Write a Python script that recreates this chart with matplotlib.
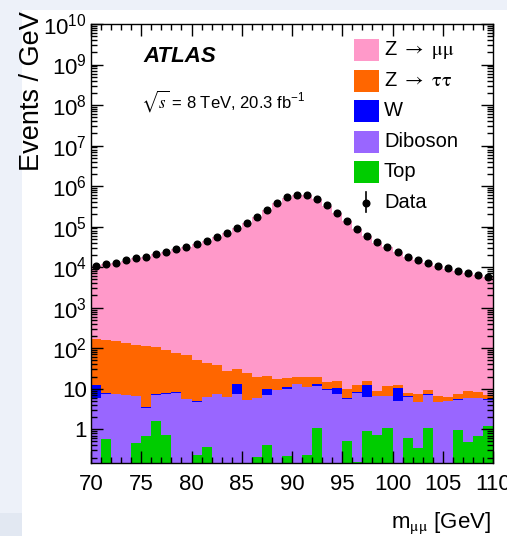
import numpy as np
import matplotlib
matplotlib.use("Agg")
import matplotlib.pyplot as plt
from matplotlib.patches import Rectangle
from matplotlib.lines import Line2D
from matplotlib.ticker import LogLocator, MultipleLocator, FuncFormatter, NullFormatter

plt.rcParams['font.family'] = ['Liberation Sans', 'DejaVu Sans']
plt.rcParams['mathtext.fontset'] = 'stix'

# 1 GeV bins of the dimuon invariant mass
edges = np.arange(70, 111, 1)

# Observed events / GeV
data = [10800, 11900, 13000, 14600, 16400, 18000, 20600, 23900, 27300, 31800,
        37700, 44700, 55100, 70500, 91800, 124500, 175000, 255000, 380000, 525000,
        600000, 589000, 478000, 333000, 215000, 137000, 86700, 58200, 40600, 30600,
        23400, 18300, 15200, 12800, 10800, 9270, 8110, 7240, 6340, 5660]

# Simulated processes (events / GeV)
zmumu = [10650, 11750, 12850, 14450, 16300, 17900, 20500, 23800, 27200, 31700,
         37600, 44650, 55000, 70450, 91700, 124300, 174800, 254000, 378000, 523000,
         598000, 588000, 477000, 332000, 214500, 136800, 86600, 58100, 40550, 30550,
         23350, 18280, 15180, 12780, 10780, 9250, 8100, 7230, 6330, 5650]
ztautau = [154, 149, 141, 128, 116, 108, 97, 81, 66, 62,
           45, 38, 31, 21, 17, 19, 14, 11, 7.7, 6.9,
           7.0, 8.4, 6.1, 5.4, 4.8, 4.2, 4.1, 3.2, 2.1, 4.8,
           1.8, 1.1, 2.6, 2.2, 1.9, 1.3, 1.8, 2.7, 2.4, 1.7]
wjets = [6.2, 0.1, 0.1, 0.1, 0.1, 0.1, 0.1, 0.1, 0.1, 0.1,
         0.1, 0.1, 0.1, 0.1, 5.8, 0.1, 0.1, 3.1, 0.1, 1.2,
         0.1, 0.1, 1.4, 0.1, 2.9, 0.1, 0.1, 5.9, 0.1, 0.1,
         5.6, 0.4, 0.1, 0.1, 0.1, 0.1, 0.1, 0.1, 0.1, 0.1]
diboson = [5.95, 7.03, 7.25, 6.85, 6.04, 2.7, 5.6, 6.89, 7.95, 5.55,
           4.57, 5.84, 7.25, 6.25, 7.55, 5.15, 5.69, 6.5, 9.15, 9.68,
           12.85, 10.87, 10.43, 9.45, 7.55, 5.19, 7.84, 5.41, 5.79, 5.52,
           4.85, 5.68, 4.35, 6.1, 4.55, 4.85, 4.42, 5.41, 5.2, 4.21]
top = [0.05, 0.57, 0.05, 0.05, 0.46, 0.70, 1.6, 0.71, 0.05, 0.05,
       0.23, 0.36, 0.05, 0.05, 0.05, 0.05, 0.21, 0.40, 0.05, 0.22,
       0.05, 0.23, 1.07, 0.05, 0.05, 0.51, 0.16, 0.89, 0.71, 1.08,
       0.05, 0.62, 0.35, 1.1, 0.05, 0.05, 0.98, 0.49, 0.70, 1.19]

labels = [r"Z $\rightarrow$ $\mathrm{\mu\mu}$", r"Z $\rightarrow$ $\mathrm{\tau\tau}$",
          "W", "Diboson", "Top"]
colors = ["#ff99c9", "#ff6600", "#0000ff", "#9966ff", "#00cc00"]

W, H = 507, 536
fig = plt.figure(figsize=(W / 100, H / 100), dpi=100)
fig.patch.set_facecolor('#edf1f9')
fig.add_artist(Rectangle((22 / W, 0), 1 - 22 / W, 1 - 10 / H, transform=fig.transFigure,
                         facecolor='white', edgecolor='none', zorder=-5))
fig.add_artist(Rectangle((0, 0), 22 / W, 23 / H, transform=fig.transFigure,
                         facecolor='#e2e8f2', edgecolor='none', zorder=-5))


def fx(x):
    return x / W


def fy(y):
    return 1 - y / H


ax = fig.add_axes([fx(91), fy(463), 402 / W, 439 / H])

# stacked histogram: top at the bottom, Z->mumu on the top
stack = [top, diboson, wjets, ztautau, zmumu]
stack_colors = [colors[4], colors[3], colors[2], colors[1], colors[0]]
cum = np.cumsum(np.array(stack, dtype=float), axis=0)
for k in range(len(stack) - 1, -1, -1):
    ax.stairs(cum[k], edges, fill=True, baseline=1e-3, color=stack_colors[k], lw=0)

centers = 0.5 * (edges[:-1] + edges[1:])
ax.plot(centers, data, 'o', color='black', ms=4.8, zorder=5)

ax.set_yscale('log')
ax.set_xlim(70, 110)
ax.set_ylim(0.147, 1e10)

ax.xaxis.set_major_locator(MultipleLocator(5))
ax.xaxis.set_minor_locator(MultipleLocator(1))
ax.yaxis.set_major_locator(LogLocator(base=10, numticks=30))
ax.yaxis.set_minor_locator(LogLocator(base=10, subs=np.arange(2, 10), numticks=30))
ax.yaxis.set_minor_formatter(NullFormatter())


def ylab(v, pos):
    e = int(round(np.log10(v)))
    if e == 0:
        return "1"
    if e == 1:
        return "10"
    return r"$\mathregular{10^{%d}}$" % e


ax.yaxis.set_major_formatter(FuncFormatter(ylab))
ax.tick_params(which='both', direction='in', top=True, right=True, width=1, color='black')
ax.tick_params(which='major', length=8.6, labelsize=16)
ax.tick_params(axis='x', which='major', pad=8)
ax.tick_params(axis='y', which='major', pad=3)
ax.tick_params(which='minor', length=4.3)
for s in ax.spines.values():
    s.set_linewidth(1)

# axis titles
fig.text(fx(32), fy(11), "Events / GeV", rotation=90, ha='center', va='top', fontsize=19.5)
fig.text(fx(491), fy(528), r"m$_{\mathrm{\mu\mu}}$ [GeV]", ha='right', va='baseline', fontsize=16)

# experiment label
fig.text(fx(143), fy(62), "ATLAS", fontsize=16, fontweight='bold', fontstyle='italic',
         va='baseline', ha='left')
fig.text(fx(141), fy(108), r"$\sqrt{s}$ = 8 TeV, 20.3 fb$^{\mathregular{-1}}$", fontsize=12,
         va='baseline', ha='left')

# legend
rows = [50, 80.5, 111, 141.5, 172]
for lab, col, yc in zip(labels, colors, rows):
    fig.add_artist(Rectangle((fx(354), fy(yc + 11)), 25 / W, 22 / H, transform=fig.transFigure,
                             facecolor=col, edgecolor='none', zorder=6))
    fig.text(fx(384), fy(yc), lab, fontsize=14.5, va='center', ha='left', zorder=7)
yd = 202.5
fig.add_artist(Line2D([fx(366), fx(366)], [fy(yd - 10), fy(yd + 10)], transform=fig.transFigure,
                      color='black', lw=1.2, zorder=7))
fig.add_artist(Line2D([fx(366)], [fy(yd)], transform=fig.transFigure, marker='o', ms=4.8,
                      color='black', lw=0, zorder=7))
fig.text(fx(384), fy(yd), "Data", fontsize=14.5, va='center', ha='left', zorder=7)

fig.savefig("out.png", dpi=100, facecolor=fig.get_facecolor())
